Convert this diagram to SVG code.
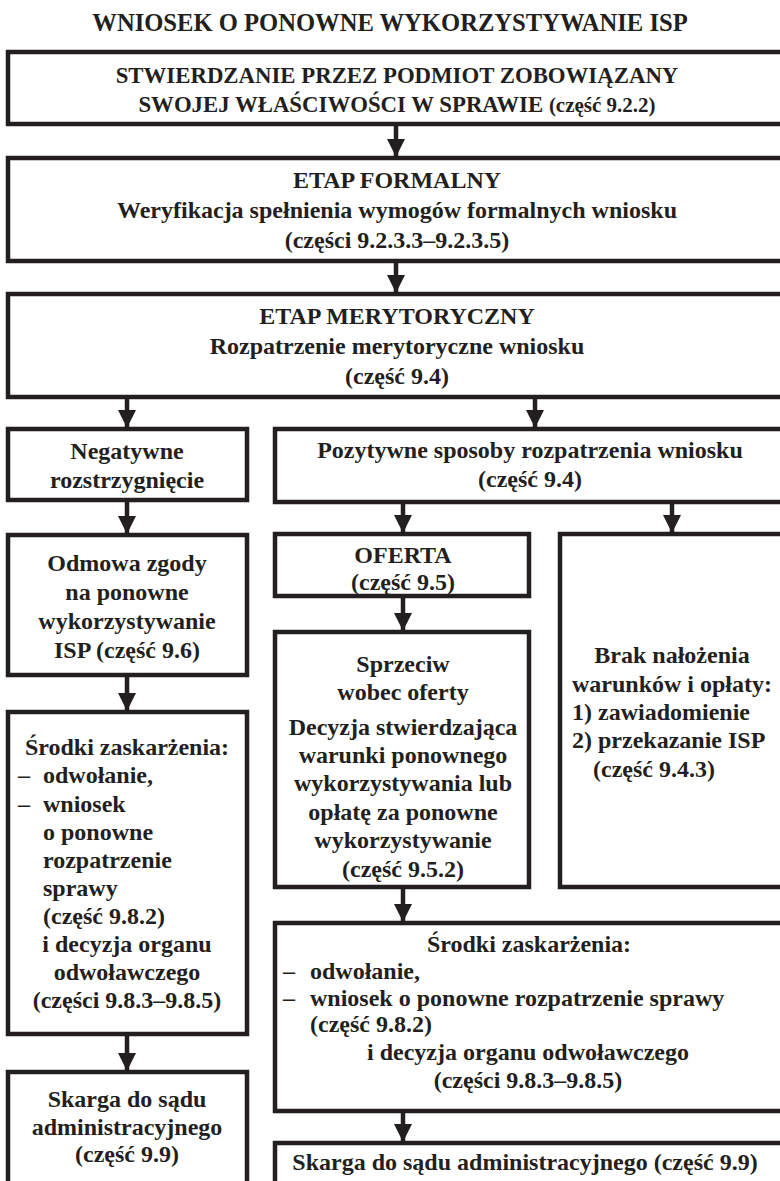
<svg xmlns="http://www.w3.org/2000/svg" width="780" height="1181" viewBox="0 0 780 1181">
<style>
  .box{fill:#fff;stroke:#231f20;stroke-width:4.5}
  text{font-family:"Liberation Serif","Times New Roman",serif;font-weight:bold;fill:#231f20;font-size:24px}
  .c{text-anchor:middle}
  .title{font-size:24.6px}
  .caps{font-size:22.8px}
  .conn line{stroke:#231f20;stroke-width:4.5}
</style>
<defs>
  <marker id="ah" markerUnits="userSpaceOnUse" markerWidth="18" markerHeight="18" refX="17" refY="9" orient="auto" viewBox="0 0 18 18">
    <path d="M0,0 L18,9 L0,18 z" fill="#231f20"/>
  </marker>
</defs>
<rect width="780" height="1181" fill="#fff"/>
<text class="c title" x="390" y="31">WNIOSEK O PONOWNE WYKORZYSTYWANIE ISP</text>

<g id="n1">
  <rect class="box" x="8" y="52" width="800" height="72"/>
  <text class="c caps" x="397" y="83">STWIERDZANIE PRZEZ PODMIOT ZOBOWIĄZANY</text>
  <text class="c caps" x="397" y="112">SWOJEJ WŁAŚCIWOŚCI W SPRAWIE <tspan font-size="21">(część 9.2.2)</tspan></text>
</g>
<g id="n2">
  <rect class="box" x="8" y="158" width="800" height="103"/>
  <text class="c" x="397" y="188">ETAP FORMALNY</text>
  <text class="c" x="397" y="218">Weryfikacja spełnienia wymogów formalnych wniosku</text>
  <text class="c" x="397" y="248">(części 9.2.3.3–9.2.3.5)</text>
</g>
<g id="n3">
  <rect class="box" x="8" y="294" width="800" height="103"/>
  <text class="c" x="397" y="324">ETAP MERYTORYCZNY</text>
  <text class="c" x="397" y="354">Rozpatrzenie merytoryczne wniosku</text>
  <text class="c" x="397" y="384">(część 9.4)</text>
</g>
<g id="n4">
  <rect class="box" x="8" y="429" width="239" height="71"/>
  <text class="c" x="127" y="459">Negatywne</text>
  <text class="c" x="127" y="488">rozstrzygnięcie</text>
</g>
<g id="n5">
  <rect class="box" x="275" y="429" width="533" height="73"/>
  <text class="c" x="530" y="458">Pozytywne sposoby rozpatrzenia wniosku</text>
  <text class="c" x="530" y="487">(część 9.4)</text>
</g>
<g id="n6">
  <rect class="box" x="8" y="535" width="239" height="140"/>
  <text class="c" x="127" y="571">Odmowa zgody</text>
  <text class="c" x="127" y="600">na ponowne</text>
  <text class="c" x="127" y="629">wykorzystywanie</text>
  <text class="c" x="127" y="658">ISP (część 9.6)</text>
</g>
<g id="n7">
  <rect class="box" x="275" y="534" width="254" height="62"/>
  <text class="c" x="403" y="563">OFERTA</text>
  <text class="c" x="403" y="590">(część 9.5)</text>
</g>
<g id="n8">
  <rect class="box" x="560" y="534" width="248" height="353"/>
  <text class="c" x="672" y="663">Brak nałożenia</text>
  <text class="c" x="672" y="692">warunków i opłaty:</text>
  <text x="572" y="720">1) zawiadomienie</text>
  <text x="572" y="748">2) przekazanie ISP</text>
  <text x="593" y="777">(część 9.4.3)</text>
</g>
<g id="n9">
  <rect class="box" x="275" y="632" width="254" height="255"/>
  <text class="c" x="403" y="672">Sprzeciw</text>
  <text class="c" x="403" y="700">wobec oferty</text>
  <text class="c" x="403" y="735">Decyzja stwierdzająca</text>
  <text class="c" x="403" y="763">warunki ponownego</text>
  <text class="c" x="403" y="791">wykorzystywania lub</text>
  <text class="c" x="403" y="820">opłatę za ponowne</text>
  <text class="c" x="403" y="848">wykorzystywanie</text>
  <text class="c" x="403" y="877">(część 9.5.2)</text>
</g>
<g id="n10">
  <rect class="box" x="8" y="712" width="239" height="322"/>
  <text class="c" x="127" y="755">Środki zaskarżenia:</text>
  <text x="18" y="783">–</text><text x="43" y="783">odwołanie,</text>
  <text x="18" y="812">–</text><text x="43" y="812">wniosek</text>
  <text x="43" y="840">o ponowne</text>
  <text x="43" y="868">rozpatrzenie</text>
  <text x="43" y="896">sprawy</text>
  <text x="43" y="924">(część 9.8.2)</text>
  <text class="c" x="127" y="952">i decyzja organu</text>
  <text class="c" x="127" y="980">odwoławczego</text>
  <text class="c" x="127" y="1008">(części 9.8.3–9.8.5)</text>
</g>
<g id="n11">
  <rect class="box" x="275" y="923" width="533" height="188"/>
  <text class="c" x="529" y="952">Środki zaskarżenia:</text>
  <text x="283" y="979">–</text><text x="310" y="979">odwołanie,</text>
  <text x="283" y="1006">–</text><text x="310" y="1006">wniosek o ponowne rozpatrzenie sprawy</text>
  <text x="310" y="1032">(część 9.8.2)</text>
  <text class="c" x="528" y="1060">i decyzja organu odwoławczego</text>
  <text class="c" x="528" y="1088">(części 9.8.3–9.8.5)</text>
</g>
<g id="n12">
  <rect class="box" x="8" y="1072" width="239" height="130"/>
  <text class="c" x="127" y="1107">Skarga do sądu</text>
  <text class="c" x="127" y="1135">administracyjnego</text>
  <text class="c" x="127" y="1162">(część 9.9)</text>
</g>
<g id="n13">
  <rect class="box" x="275" y="1143" width="533" height="60"/>
  <text class="c" x="525" y="1170">Skarga do sądu administracyjnego (część 9.9)</text>
</g>

<g id="connectors" class="conn">
  <line x1="396" y1="124" x2="396" y2="156" marker-end="url(#ah)"/>
  <line x1="396" y1="261" x2="396" y2="292" marker-end="url(#ah)"/>
  <line x1="127" y1="397" x2="127" y2="427" marker-end="url(#ah)"/>
  <line x1="535" y1="397" x2="535" y2="427" marker-end="url(#ah)"/>
  <line x1="127" y1="500" x2="127" y2="533" marker-end="url(#ah)"/>
  <line x1="403" y1="502" x2="403" y2="532" marker-end="url(#ah)"/>
  <line x1="672" y1="502" x2="672" y2="532" marker-end="url(#ah)"/>
  <line x1="403" y1="596" x2="403" y2="630" marker-end="url(#ah)"/>
  <line x1="127" y1="675" x2="127" y2="710" marker-end="url(#ah)"/>
  <line x1="403" y1="887" x2="403" y2="921" marker-end="url(#ah)"/>
  <line x1="127" y1="1034" x2="127" y2="1070" marker-end="url(#ah)"/>
  <line x1="403" y1="1111" x2="403" y2="1141" marker-end="url(#ah)"/>
</g>
</svg>
